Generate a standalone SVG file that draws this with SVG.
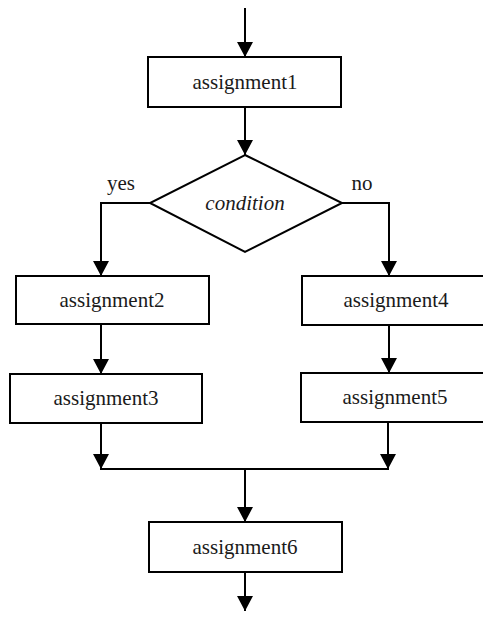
<svg xmlns="http://www.w3.org/2000/svg" width="483" height="620" viewBox="0 0 483 620">
<style>
.box{fill:#fff;stroke:#000;stroke-width:2}
.ln{fill:none;stroke:#000;stroke-width:2}
.c{text-anchor:middle}
</style>
<defs>
<marker id="ah" viewBox="0 0 16 17" refX="16" refY="8.5" markerWidth="17" markerHeight="16" markerUnits="userSpaceOnUse" orient="auto">
<path d="M0,0 L16,8.5 L0,17 Z" fill="#000"/>
</marker>
</defs>
<rect width="483" height="620" fill="#fff"/>
<g font-family="'Liberation Serif', 'Times New Roman', 'DejaVu Serif', serif" font-size="21" fill="#1a1a1a">
<g id="connectors">
<line class="ln" x1="245" y1="8" x2="245" y2="57" marker-end="url(#ah)"/>
<line class="ln" x1="245" y1="107" x2="245" y2="155" marker-end="url(#ah)"/>
<polyline class="ln" points="150,203 101,203 101,276" marker-end="url(#ah)"/>
<polyline class="ln" points="341,203 389,203 389,276" marker-end="url(#ah)"/>
<line class="ln" x1="101" y1="324" x2="101" y2="374" marker-end="url(#ah)"/>
<line class="ln" x1="389" y1="325" x2="389" y2="373" marker-end="url(#ah)"/>
<line class="ln" x1="101" y1="423" x2="101" y2="469" marker-end="url(#ah)"/>
<line class="ln" x1="388" y1="422" x2="388" y2="469" marker-end="url(#ah)"/>
<line class="ln" x1="100" y1="469" x2="389" y2="469"/>
<line class="ln" x1="245" y1="469" x2="245" y2="522" marker-end="url(#ah)"/>
<line class="ln" x1="245" y1="572" x2="245" y2="611" marker-end="url(#ah)"/>
<text x="121" y="190" class="c">yes</text>
<text x="362" y="190" class="c">no</text>
</g>
<g id="assignment1">
<rect class="box" x="148" y="57" width="193" height="50"/>
<text x="245" y="89" class="c">assignment1</text>
</g>
<g id="condition">
<polygon class="box" points="245,155 342,203 245,252 150,203"/>
<text x="245" y="210" class="c" font-style="italic">condition</text>
</g>
<g id="assignment2">
<rect class="box" x="16" y="276" width="193" height="48"/>
<text x="112" y="307" class="c">assignment2</text>
</g>
<g id="assignment3">
<rect class="box" x="10" y="374" width="192" height="49"/>
<text x="106" y="405" class="c">assignment3</text>
</g>
<g id="assignment4">
<rect class="box" x="302" y="276" width="195" height="49"/>
<text x="396" y="307" class="c">assignment4</text>
</g>
<g id="assignment5">
<rect class="box" x="301" y="373" width="196" height="49"/>
<text x="395" y="404" class="c">assignment5</text>
</g>
<g id="assignment6">
<rect class="box" x="149" y="522" width="193" height="50"/>
<text x="245" y="554" class="c">assignment6</text>
</g>
</g>
</svg>
